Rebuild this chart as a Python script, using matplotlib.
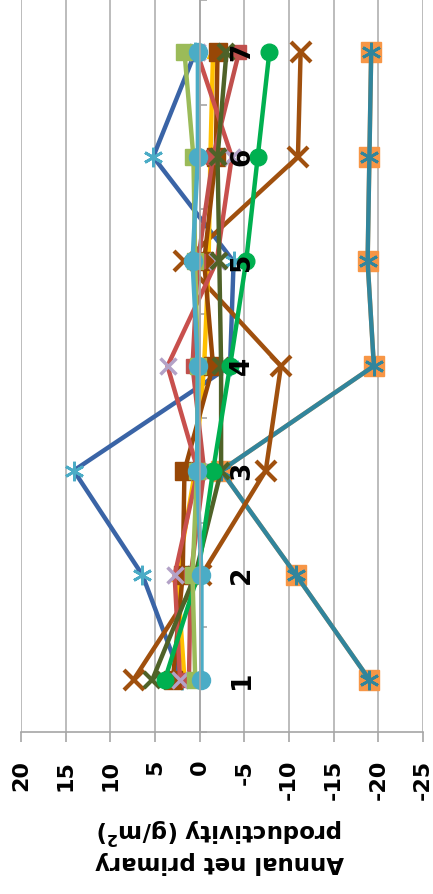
import matplotlib.pyplot as plt

cats = [1, 2, 3, 4, 5, 6, 7]

# annual NPP change per site (g/m2)
blue_star = [2.0, 6.4, 14.1, -3.4, -3.8, 5.2, 0.5]
teal_sq = [-19.0, -10.8, -2.4, -19.5, -18.8, -19.0, -19.2]
brown_x = [7.4, -0.2, -7.4, -9.1, 1.7, -11.0, -11.3]
green_o = [3.9, 0.2, -1.5, -3.4, -5.2, -6.5, -7.8]
olive_x = [5.3, 0.5, -2.4, -2.4, -2.2, -2.0, -3.0]
red_a = [2.2, 2.8, 0.2, 3.6, -1.9, -3.6, 0.3]
red_b = [1.2, 1.0, -0.5, 0.8, 0.2, -1.5, -4.4]
yellow = [1.7, 2.5, 0.5, -0.5, -1.0, -1.2, -1.5]
dkbrown_sq = [3.0, 1.9, 1.7, -1.5, -0.5, -1.8, -2.0]
ltgreen_sq = [0.5, 0.8, 0.3, 0.2, 0.5, 0.7, 1.7]
ltblue_o = [-0.2, -0.2, 0.3, 0.2, 0.8, 0.2, 0.2]

xticks = [20, 15, 10, 5, 0, -5, -10, -15, -20, -25]

fig = plt.figure(figsize=(4.33, 8.94), dpi=100)
ax = fig.add_axes([21/433, 162/894, 402/433, 732/894])

lw = 3.2
ax.plot(blue_star, cats, color='#3A64A6', lw=lw, marker=(6, 2, 0), ms=14, mew=2, mec='#4BACC6')
ax.plot(teal_sq, cats, color='#F79646', lw=lw, marker='s', ms=14, mec='#F79646')
ax.plot(teal_sq, cats, color='#31859C', lw=lw, marker=(6, 2, 0), ms=14, mew=2, mec='#31859C')
ax.plot(brown_x, cats, color='#A0500E', lw=lw, marker='x', ms=14, mew=3, mec='#A0500E')
ax.plot(yellow, cats, color='#FFC000', lw=lw, marker='^', ms=8)
ax.plot(dkbrown_sq, cats, color='#974706', lw=lw, marker='s', ms=13)
ax.plot(red_b, cats, color='#C0504D', lw=lw, marker='s', ms=10)
ax.plot(red_a, cats, color='#C8504D', lw=lw, marker='x', ms=12, mew=2.5, mec='#B3A2C7')
ax.plot(olive_x, cats, color='#4F6228', lw=lw, marker='x', ms=12, mew=3)
ax.plot(green_o, cats, color='#00B050', lw=lw, marker='o', ms=12)
ax.plot(ltgreen_sq, cats, color='#9BBB59', lw=lw, marker='s', ms=12)
ax.plot(ltblue_o, cats, color='#4BACC6', lw=lw, marker='o', ms=13)

ax.set_xlim(20, -25)
ax.set_ylim(0.5, 7.5)
ax.set_xticks(xticks)
ax.set_xticklabels([str(v) for v in xticks], rotation=90, fontsize=16, fontweight='bold')
ax.tick_params(axis='x', length=7, width=1.2, color='#A6A6A6', pad=13)
ax.xaxis.grid(True, color='#B0B0B0', lw=1.2)
ax.set_axisbelow(True)

ax.spines['top'].set_visible(False)
ax.spines['right'].set_visible(False)
ax.spines['bottom'].set_color('#A6A6A6')
ax.spines['bottom'].set_linewidth(1.2)
ax.spines['left'].set_position(('data', 0))
ax.spines['left'].set_color('#A6A6A6')
ax.spines['left'].set_linewidth(1.2)
ax.set_yticks([c + 0.5 for c in [0] + cats])
ax.set_yticklabels([])
ax.tick_params(axis='y', direction='in', length=5, width=1.2, color='#A6A6A6')

for c in cats:
    ax.text(-3.3, c, str(c), rotation=90, ha='left', va='center', fontsize=19,
            fontweight='bold', color='black')

fig.text(220/433, 1 - 845/894, 'Annual net primary\nproductivity (g/m$^\\mathbf{2}$)',
         rotation=180, ha='center', va='center', fontsize=16.5, fontweight='bold',
         linespacing=1.2)

fig.savefig('out.png', dpi=100)
